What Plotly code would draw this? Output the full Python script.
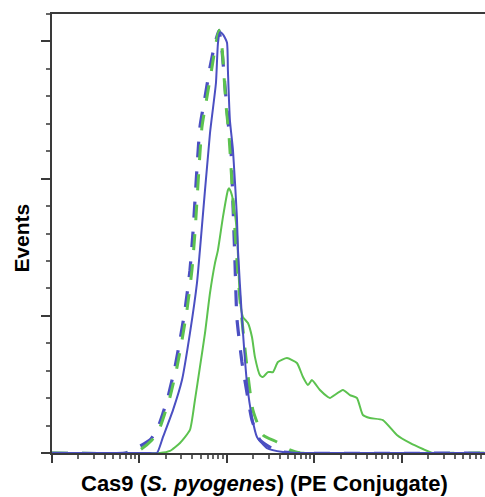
import plotly.graph_objects as go

# log10 fluorescence intensity and event counts
blue_solid_logx = [0, 1.12, 1.2, 1.269, 1.383, 1.486, 1.577, 1.657, 1.691, 1.806, 1.874, 1.897, 1.92,
                   1.954, 2.0, 2.011, 2.034, 2.069, 2.114, 2.126, 2.171, 2.229, 2.286, 2.343, 2.457,
                   2.64, 2.834, 4.95]
blue_solid_y = [0, 0, 0, 11.7, 31.3, 53.2, 87.4, 123.8, 147.9, 233.1, 269.5, 298.6, 306.6,
                305.2, 299.3, 278.9, 242.5, 220.7, 171.9, 147.9, 99.1, 51.0, 26.2, 11.7, 3.6,
                0.7, 0, 0]

green_solid_logx = [0, 1.234, 1.349, 1.463, 1.577, 1.634, 1.691, 1.749, 1.806, 1.863, 1.897, 1.954,
                    2.011, 2.023, 2.046, 2.069, 2.114, 2.149, 2.183, 2.24, 2.286, 2.32, 2.377, 2.411,
                    2.469, 2.526, 2.583, 2.686, 2.8, 2.869, 2.926, 2.971, 3.063, 3.154, 3.177, 3.326,
                    3.406, 3.486, 3.554, 3.634, 3.783, 3.943, 4.091, 4.24, 4.354, 4.95]
green_solid_y = [0, 0, 1.5, 7.3, 16.8, 38.6, 62.6, 87.4, 116.5, 138.4, 147.9, 171.9,
                 191.6, 193.0, 190.1, 184.3, 160.2, 111.4, 99.1, 94.7, 84.5, 69.9, 56.8, 55.4,
                 59.0, 59.0, 66.3, 69.2, 65.6, 55.4, 49.5, 53.2, 45.9, 40.8, 40.1, 45.9,
                 42.2, 40.1, 27.7, 25.5, 24.0, 13.1, 7.3, 2.9, 0, 0]

blue_dash_logx = [0, 0.834, 0.926, 1.12, 1.2, 1.269, 1.326, 1.406, 1.463, 1.52, 1.577, 1.611, 1.691,
                  1.749, 1.806, 1.863, 1.909, 1.943, 1.977, 2.011, 2.046, 2.069, 2.091, 2.114, 2.171,
                  2.229, 2.286, 2.377, 2.571, 2.834, 4.95]
blue_dash_y = [0, 0, 2.2, 9.5, 16.8, 29.1, 40.8, 62.6, 82.3, 104.2, 133.3, 160.2, 237.4,
               259.3, 281.1, 298.6, 308.1, 293.5, 268.0, 242.5, 220.7, 180.6, 140.6, 98.3, 66.3,
               43.7, 24.0, 9.5, 1.5, 0, 0]

green_dash_logx = [0, 0.891, 1.006, 1.143, 1.223, 1.291, 1.349, 1.429, 1.486, 1.543, 1.6, 1.634, 1.714,
                   1.771, 1.829, 1.874, 1.909, 1.943, 1.966, 1.989, 2.023, 2.069, 2.114, 2.149, 2.229,
                   2.297, 2.411, 2.571, 2.72, 2.834, 4.95]
green_dash_y = [0, 0, 2.2, 9.5, 16.8, 29.1, 40.8, 62.6, 82.3, 104.2, 133.3, 160.2, 237.4,
                259.3, 281.1, 298.6, 308.1, 295.7, 275.3, 253.5, 231.6, 184.3, 140.6, 111.4, 62.6,
                31.3, 13.1, 8.0, 2.2, 0, 0]

x_major_ticks = [1, 10, 100, 1000, 10000]
y_major_ticks = [0, 100, 200, 300]

BLUE = "#4b4fc2"
GREEN = "#5cc24f"
AXIS = "#3a3a3a"

def tx(v):
    return [10 ** a for a in v]

fig = go.Figure()
fig.add_trace(go.Scatter(x=tx(blue_dash_logx), y=blue_dash_y, mode="lines",
                         line=dict(color=BLUE, width=3.2, dash="16px,14px", shape="spline", smoothing=0.5)))
fig.add_trace(go.Scatter(x=tx(green_dash_logx), y=green_dash_y, mode="lines",
                         line=dict(color=GREEN, width=3, dash="16px,14px", shape="spline", smoothing=0.5)))
fig.add_trace(go.Scatter(x=tx(green_solid_logx), y=green_solid_y, mode="lines",
                         line=dict(color=GREEN, width=2, shape="spline", smoothing=0.5)))
fig.add_trace(go.Scatter(x=tx(blue_solid_logx), y=blue_solid_y, mode="lines",
                         line=dict(color=BLUE, width=2, shape="spline", smoothing=0.5)))

fig.update_layout(
    width=485, height=497,
    margin=dict(l=52, r=0, t=14, b=44),
    paper_bgcolor="white", plot_bgcolor="white",
    showlegend=False,
    xaxis=dict(type="log", range=[0, 4.95], tickvals=x_major_ticks, showticklabels=False,
               ticks="outside", ticklen=8, tickwidth=2, tickcolor=AXIS,
               showline=True, linecolor=AXIS, linewidth=2, mirror=True,
               showgrid=False, zeroline=False,
               minor=dict(ticks="outside", ticklen=4, tickwidth=1.5, tickcolor="#666", dtick="D1",
                          showgrid=False)),
    yaxis=dict(range=[0, 320], tickvals=y_major_ticks, showticklabels=False,
               ticks="outside", ticklen=9, tickwidth=2, tickcolor=AXIS,
               showline=True, linecolor=AXIS, linewidth=2, mirror=False,
               showgrid=False, zeroline=False,
               minor=dict(ticks="outside", ticklen=4, tickwidth=1.5, tickcolor="#666", dtick=20,
                          showgrid=False)),
    annotations=[
        dict(text="Cas9 (<i>S. pyogenes</i>) (PE Conjugate)", xref="paper", yref="paper",
             x=0.49, y=-0.0706, xanchor="center", yanchor="middle", showarrow=False,
             font=dict(family="Liberation Sans Narrow, Arial Narrow, Liberation Sans, sans-serif", size=22,
                       color="#000", weight="bold")),
        dict(text="Events", xref="paper", yref="paper", x=-0.07, y=0.49,
             xanchor="center", yanchor="middle", showarrow=False, textangle=-90,
             font=dict(family="Liberation Sans, Arial, sans-serif", size=21,
                       color="#000", weight="bold")),
    ],
)

fig.write_html("out.html", config={"displayModeBar": False},
               post_script="document.body.style.margin='0px';")
